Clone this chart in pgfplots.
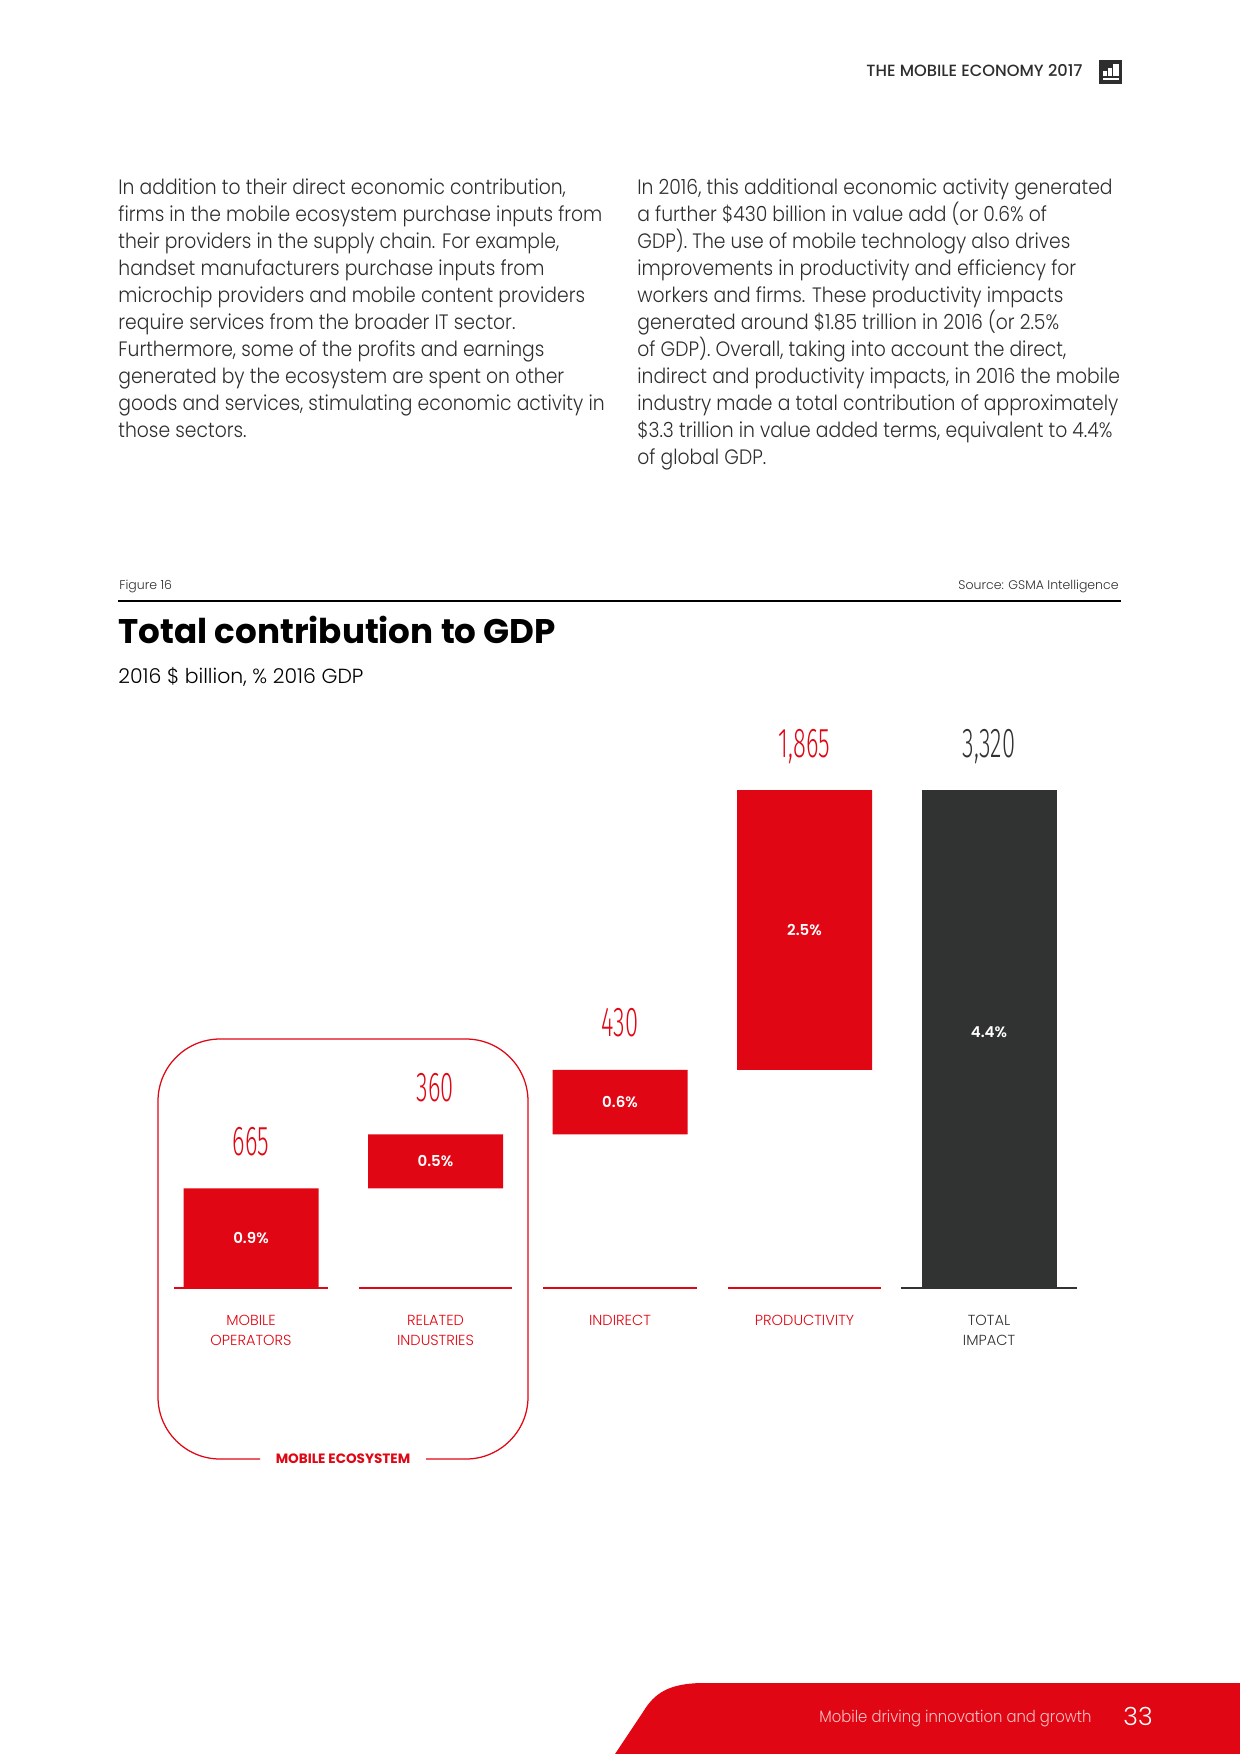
\documentclass[border=0pt]{standalone}
\usepackage{fontspec}
\usepackage{pgfplots}
\pgfplotsset{compat=1.18}

\IfFontExistsTF{Poppins Light}{\newfontfamily\fLight{Poppins Light}}{\newfontfamily\fLight{Poppins}}
\IfFontExistsTF{Poppins Light}{\newfontfamily\fBody{Poppins Light}[FakeStretch=0.9]}{\newfontfamily\fBody{Poppins}[FakeStretch=0.9]}
\IfFontExistsTF{Poppins Medium}{\newfontfamily\fMed{Poppins Medium}}{\newfontfamily\fMed{Poppins}}
\IfFontExistsTF{Poppins SemiBold}{\newfontfamily\fSemi{Poppins SemiBold}}{\newfontfamily\fSemi{Poppins}[UprightFont=*-Bold]}
\newfontfamily\fBold{Poppins}[UprightFont=* Bold]
\IfFontExistsTF{Fira Sans Light}{\newfontfamily\fCond{Fira Sans Light}[FakeStretch=0.57]}{\newfontfamily\fCond{Fira Sans}[FakeStretch=0.57]}

\definecolor{gsred}{HTML}{E10613}
\definecolor{gdark}{HTML}{313232}
\definecolor{txt}{HTML}{2E2E2E}
\definecolor{foot}{HTML}{F6C3C6}

\pgfplotsset{
  chartbox/.style={
    at={(axo)}, anchor=south west,
    scale only axis, width=442.8pt, height=239.04pt,
    xmin=-0.5, xmax=4.5, ymin=0, ymax=3320,
    clip=false},
  labelplot/.style={only marks, mark=text, text mark={},
    nodes near coords, point meta=explicit symbolic},
}

\begin{document}
\begin{tikzpicture}
\begin{scope}[x=0.48pt,y=-0.48pt]
\path[use as bounding box] (0,0) rectangle (1240,1754);
\fill[white] (0,0) rectangle (1240,1754);

% header
\node[anchor=base east, inner sep=0, font=\fMed\fontsize{7.8}{9}\selectfont, text=txt] at (1083,76) {THE MOBILE ECONOMY 2017};
\fill[txt] (1099,60) rectangle (1122,84);
\fill[white] (1103,71) rectangle (1107,76);
\fill[white] (1108,68) rectangle (1112,76);
\fill[white] (1113,64) rectangle (1119,76);
\fill[white] (1103,78) rectangle (1119,79.5);

% body text
\foreach \t [count=\i from 0] in {%
 {In addition to their direct economic contribution,},
 {firms in the mobile ecosystem purchase inputs from},
 {their providers in the supply chain. For example,},
 {handset manufacturers purchase inputs from},
 {microchip providers and mobile content providers},
 {require services from the broader IT sector.},
 {Furthermore, some of the profits and earnings},
 {generated by the ecosystem are spent on other},
 {goods and services, stimulating economic activity in},
 {those sectors.}}
 \node[anchor=base west, inner sep=0, font=\fBody\fontsize{10}{13}\selectfont, text=txt] at (118,{194+27*\i}) {\t};
\foreach \t [count=\i from 0] in {%
 {In 2016, this additional economic activity generated},
 {a further \$430 billion in value add (or 0.6\% of},
 {GDP). The use of mobile technology also drives},
 {improvements in productivity and efficiency for},
 {workers and firms. These productivity impacts},
 {generated around \$1.85 trillion in 2016 (or 2.5\%},
 {of GDP). Overall, taking into account the direct,},
 {indirect and productivity impacts, in 2016 the mobile},
 {industry made a total contribution of approximately},
 {\$3.3 trillion in value added terms, equivalent to 4.4\%},
 {of global GDP.}}
 \node[anchor=base west, inner sep=0, font=\fBody\fontsize{10}{13}\selectfont, text=txt] at (637,{194+27*\i}) {\t};

% figure heading
\node[anchor=base west, inner sep=0, font=\fLight\fontsize{6}{7}\selectfont, text=txt] at (119,589) {Figure 16};
\node[anchor=base east, inner sep=0, font=\fLight\fontsize{6}{7}\selectfont, text=txt] at (1119,589) {Source: GSMA Intelligence};
\draw[black, line width=0.8pt] (118,601) -- (1121,601);
\node[anchor=base west, inner sep=0, font=\fBold\fontsize{16.4}{19}\selectfont, text=black] at (118,643) {Total contribution to GDP};
\node[anchor=base west, inner sep=0, font=\fLight\fontsize{9.8}{11}\selectfont, text=black] at (118,683) {2016 \$ billion, \% 2016 GDP};

% mobile ecosystem frame
\draw[gsred, line width=0.6pt, rounded corners=29.8pt]
  (260,1459) -- (158,1459) -- (158,1039) -- (528,1039) -- (528,1459) -- (426,1459);
\node[inner sep=0, font=\fBold\fontsize{6.5}{8}\selectfont, text=gsred] at (343,1459) {MOBILE ECOSYSTEM};

% footer
\fill[gsred] (615,1754) -- (643,1712) .. controls (655,1692) and (670,1684) .. (700,1683)
  -- (1240,1683) -- (1240,1754) -- cycle;
\node[anchor=base east, inner sep=0, font=\fBody\fontsize{7.9}{9}\selectfont, text=foot] at (1092,1722) {Mobile driving innovation and growth};
\node[anchor=base, inner sep=0, font=\fLight\fontsize{12}{13}\selectfont, text=white] at (1138,1725) {33};

\coordinate (axo) at (158.75,1288);
\end{scope}

% contributions: invisible base + red increment
\begin{axis}[
    chartbox,
    ybar stacked, bar width=64.8pt,
    axis line style={draw=none}, major tick length=0pt,
    ytick=\empty,
    xtick={0,1,2,3},
    xticklabels={{MOBILE\\OPERATORS},{RELATED\\INDUSTRIES},{INDIRECT},{PRODUCTIVITY}},
    extra x ticks={4},
    extra x tick labels={{TOTAL\\IMPACT}},
    extra x tick style={xticklabel style={text=gdark}},
    xticklabel style={font=\fLight\fontsize{7}{9.6}\selectfont, text=gsred,
        align=center, anchor=north, inner sep=0pt, yshift=-12.7pt},
]
\addplot[draw=none, fill=none] coordinates {(0,0) (1,665) (2,1025) (3,1455)};
\addplot[draw=none, fill=gsred] coordinates {(0,665) (1,360) (2,430) (3,1865)};
\end{axis}

% total impact
\begin{axis}[chartbox, hide axis, ybar, bar width=64.8pt]
\addplot[draw=none, fill=gdark] coordinates {(4,3320)};
\end{axis}

% baselines and labels
\begin{axis}[chartbox, hide axis]
\addplot[gsred, line width=0.7pt, mark=none, unbounded coords=jump] coordinates {
  (-0.415,0) (0.415,0) (0.5,nan) (0.585,0) (1.415,0) (1.5,nan)
  (1.585,0) (2.415,0) (2.5,nan) (2.585,0) (3.415,0)};
\addplot[gdark, line width=0.7pt, mark=none] coordinates {(3.523,0) (4.477,0)};
\addplot[labelplot,
    every node near coord/.style={anchor=center, inner sep=0pt, text=white,
        font=\fSemi\fontsize{7.2}{8}\selectfont}]
  coordinates {(0,332.5) [0.9\%] (1,845) [0.5\%] (2,1240) [0.6\%] (3,2387.5) [2.5\%] (4,1705) [4.4\%]};
\addplot[labelplot,
    every node near coord/.style={anchor=base, inner sep=0pt, yshift=15.84pt, text=gsred,
        font=\fCond\fontsize{20}{22}\selectfont}]
  coordinates {(0,665) [665] (1,1025) [360] (2,1455) [430] (3,3320) [{1,865}]};
\addplot[labelplot,
    every node near coord/.style={anchor=base, inner sep=0pt, yshift=15.84pt, text=gdark,
        font=\fCond\fontsize{20}{22}\selectfont}]
  coordinates {(4,3320) [{3,320}]};
\end{axis}
\end{tikzpicture}
\end{document}
